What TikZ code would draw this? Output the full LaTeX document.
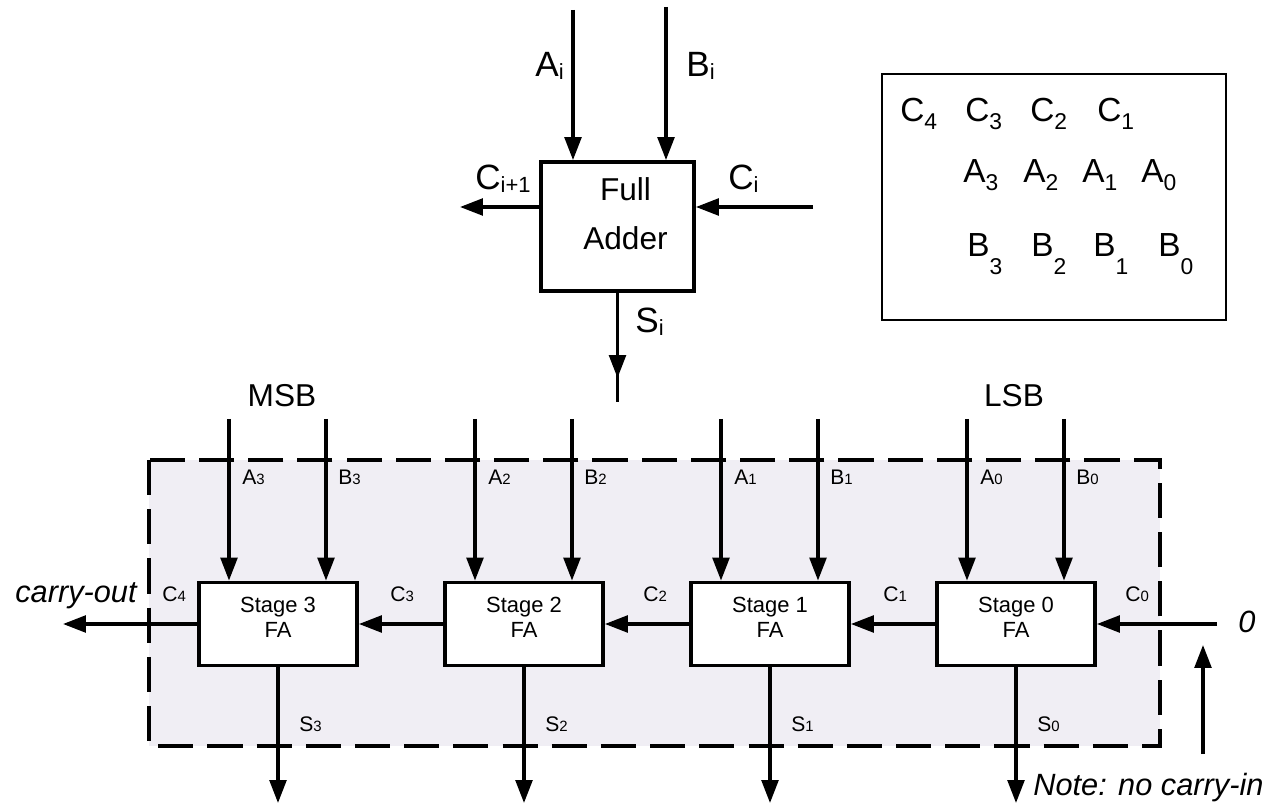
\documentclass[tikz,border=0pt]{standalone}
\usepackage{fontspec}
\setmainfont{Liberation Sans}
\usetikzlibrary{arrows.meta,calc}
\definecolor{grpfill}{RGB}{240,238,244}
\newcommand{\isub}[1]{\raisebox{-1.5pt}{\fontsize{12.5}{12.5}\selectfont #1}}
\newcommand{\dsub}[1]{{\fontsize{8.5}{8.5}\selectfont #1}}
\newcommand{\lsub}[2][4pt]{\raisebox{-#1}{\fontsize{13}{13}\selectfont #2}}

\begin{document}
\begin{tikzpicture}[
  x=0.02cm, y=-0.02cm,
  big/.style ={font=\fontsize{18}{22}\selectfont, inner sep=0pt},
  pin/.style ={font=\fontsize{20}{24}\selectfont, inner sep=0pt},
  itl/.style ={font=\fontsize{17.5}{21}\selectfont\itshape, inner sep=0pt},
  lbl/.style ={font=\fontsize{12}{14}\selectfont, inner sep=0pt, anchor=base west},
  lgd/.style ={font=\fontsize{19}{23}\selectfont, inner sep=0pt, anchor=base west},
  fabox/.style={draw, line width=2.2pt, fill=white,
               minimum width=3.06cm, minimum height=2.58cm},
  stg/.style ={draw, line width=2.2pt, fill=white, align=center,
               minimum width=3.16cm, minimum height=1.66cm,
               font=\fontsize{12.5}{14.7}\selectfont, text depth=7.5pt},
  grp/.style ={draw, line width=2.2pt, fill=grpfill, dash pattern=on 20pt off 8pt},
  arr/.style ={-{Triangle[length=13pt,width=9.5pt]}, line width=1.8pt},
  wire/.style={line width=1.8pt}
]
\useasboundingbox (0,0) rectangle (1268,807);

%% ─── full adder cell ───────────────────────────────────────────────────────
\node[fabox, label={[align=center, font=\fontsize{18}{28}\selectfont,
      xshift=0.16cm, yshift=0.25cm]center:Full\\Adder}] (fa) at (617.5,226.5) {};

\coordinate (ai) at (573,10);
\coordinate (bi) at (666,7);
\coordinate (ci) at (813,207);
\coordinate (co) at (460,207);
\coordinate (smid) at (617.5,378);
\coordinate (si) at (617.5,402);

\draw[arr] (ai) -- (ai |- fa.north);
\draw[arr] (bi) -- (bi |- fa.north);
\draw[arr] (ci) -- (ci -| fa.east);
\draw[arr] (ci -| fa.west) -- (co);
\draw[wire] (fa.south) -- (si);
\draw[arr] (fa.south) -- (smid);

\node[pin, anchor=base east] (ai_l) at (564,77)  {A\isub{i}};
\node[pin, anchor=base west] (bi_l) at (686,77)  {B\isub{i}};
\node[pin, anchor=base east] (co_l) at (531,190) {C\isub{i+1}};
\node[pin, anchor=base west] (ci_l) at (728,190) {C\isub{i}};
\node[pin, anchor=base west] (si_l) at (635,333) {S\isub{i}};

%% ─── operand layout ────────────────────────────────────────────────────────
\node[draw, line width=1pt, minimum width=6.88cm, minimum height=4.92cm]
     (sumbox) at (1054,197) {};

\foreach \k/\x in {4/900, 3/965, 2/1030, 1/1097}
  \node[lgd] (c\k_l) at (\x,122) {C\lsub{\k}};
\foreach \k/\x in {3/963, 2/1023, 1/1082, 0/1141}
  \node[lgd] (a\k_l) at (\x,183) {A\lsub[4.5pt]{\k}};
\foreach \k/\x in {3/967, 2/1031, 1/1093, 0/1158}
  \node[lgd] (b\k_l) at (\x,257) {B\lsub[10pt]{\k}};

%% ─── 4-bit ripple carry adder ──────────────────────────────────────────────
\draw[grp] (149,460) rectangle (1160,746);

\foreach \s/\x in {3/278, 2/524, 1/770, 0/1016} {
  \node[stg] (st\s) at (\x,624) {Stage \s\\FA};
  \coordinate (a\s) at (\x-49,419);
  \coordinate (b\s) at (\x+48,419);
  \coordinate (s\s) at (\x,803);
  \draw[arr] (a\s) -- (a\s |- st\s.north);
  \draw[arr] (b\s) -- (b\s |- st\s.north);
  \draw[arr] (st\s) -- (s\s);
  \node[lbl] (a\s_s) at (\x-36,484) {A\dsub{\s}};
  \node[lbl] (b\s_s) at (\x+60,484) {B\dsub{\s}};
  \node[lbl] (s\s_s) at (\x+21,731) {S\dsub{\s}};
}

\foreach \a/\b in {st0/st1, st1/st2, st2/st3}
  \draw[arr] (\a) -- (\b);

\coordinate (cout) at (63,624);
\coordinate (cin)  at (1217,624);
\draw[arr] (st3) -- (cout);
\draw[arr] (cin) -- (st0);

\foreach \k/\x in {4/162, 3/390, 2/643, 1/883, 0/1125}
  \node[lbl] (cc\k) at (\x,601) {C\dsub{\k}};

\node[big, anchor=base] (msb) at (282,407)  {MSB};
\node[big, anchor=base] (lsb) at (1014,407) {LSB};

\node[itl, anchor=base east] (cout_l) at (137,602) {carry-out};
\node[itl] (zero) at (1247,622) {0};

%% ─── carry-in note ─────────────────────────────────────────────────────────
\coordinate (nt) at (1203,754);
\coordinate (nh) at (1203,645);
\draw[arr] (nt) -- (nh);
\node[itl, anchor=base west] (note) at (1033,795) {Note: no carry-in};

\end{tikzpicture}
\end{document}
